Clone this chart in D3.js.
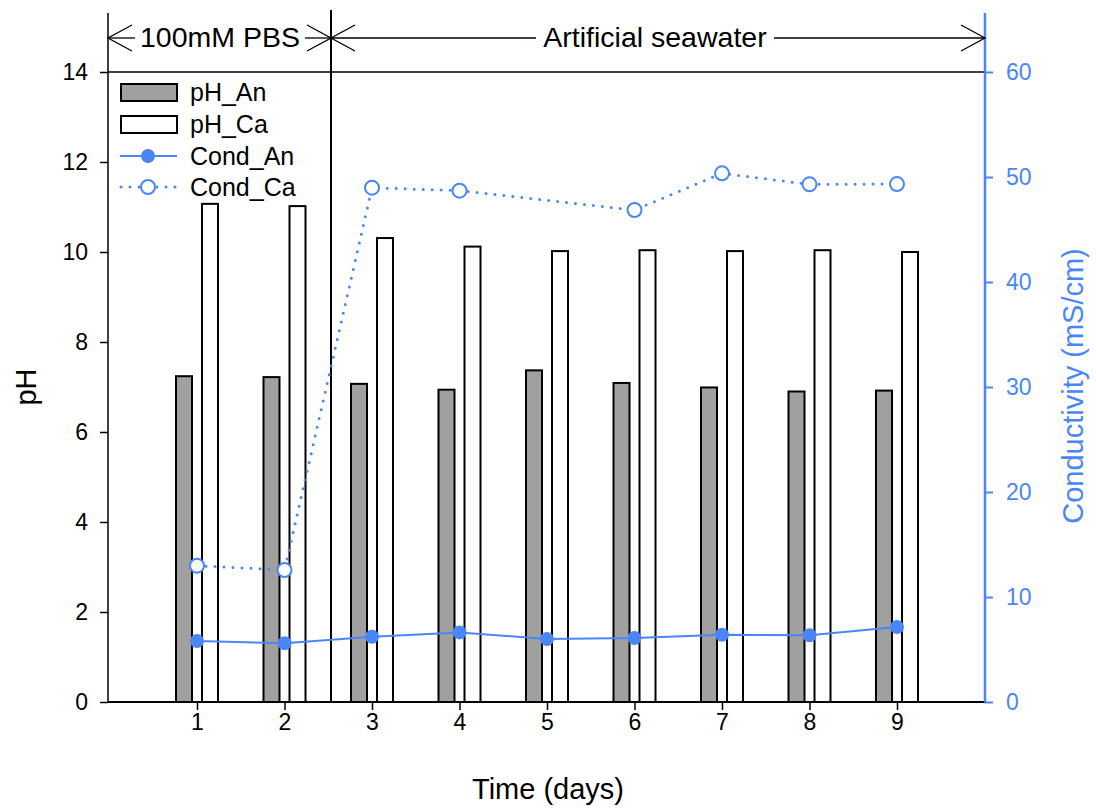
<!DOCTYPE html>
<html><head><meta charset="utf-8">
<script src="https://cdn.jsdelivr.net/npm/d3@7"></script>
<style>body{margin:0;background:#fff;} text{font-family:"Liberation Sans",Arial,sans-serif;}</style>
</head><body>
<svg id="c" width="1096" height="809"></svg>
<script>
const days = [1,2,3,4,5,6,7,8,9];
const phAn = [7.24,7.22,7.07,6.94,7.37,7.09,6.99,6.90,6.92];
const phCa = [11.07,11.02,10.31,10.12,10.02,10.04,10.02,10.04,10.00];
const condAn = [5.81,5.59,6.22,6.63,6.00,6.10,6.41,6.35,7.14];
const condCa = [12.98,12.57,48.98,48.70,null,46.86,50.35,49.30,49.33];
const leftTicks = [0,2,4,6,8,10,12,14];
const rightTicks = [0,10,20,30,40,50,60];
const blue = "#4a86f7";
const FF = "Liberation Sans, Arial, sans-serif";

const svg = d3.select("#c");
const L = 108, R = 985, B = 702, T = 13;
const x = d3.scaleLinear().domain([0,10]).range([109.5,984.5]);
const yL = d3.scaleLinear().domain([0,14]).range([702,72]);
const yR = d3.scaleLinear().domain([0,60]).range([702,72]);

// bars
const barW = 16, off = 13;
svg.selectAll("rect.an").data(days).join("rect")
  .attr("x", (d,i)=>x(d)-off-barW/2).attr("y",(d,i)=>yL(phAn[i]))
  .attr("width",barW).attr("height",(d,i)=>yL(0)-yL(phAn[i]))
  .attr("fill","#a0a0a0").attr("stroke","#000").attr("stroke-width",2);
svg.selectAll("rect.ca").data(days).join("rect")
  .attr("x", (d,i)=>x(d)+off-barW/2).attr("y",(d,i)=>yL(phCa[i]))
  .attr("width",barW).attr("height",(d,i)=>yL(0)-yL(phCa[i]))
  .attr("fill","#fff").attr("stroke","#000").attr("stroke-width",2);

// frame lines
svg.append("line").attr("x1",L).attr("x2",R).attr("y1",B).attr("y2",B).attr("stroke","#000").attr("stroke-width",2);
svg.append("line").attr("x1",L).attr("x2",L).attr("y1",T).attr("y2",B).attr("stroke","#000").attr("stroke-width",1.5);
svg.append("line").attr("x1",L).attr("x2",R).attr("y1",yL(14)).attr("y2",yL(14)).attr("stroke","#000").attr("stroke-width",1.5);
svg.append("line").attr("x1",331).attr("x2",331).attr("y1",10).attr("y2",B).attr("stroke","#000").attr("stroke-width",2);

function styleText(sel, color){
  sel.selectAll("text").attr("font-size",23).style("font-size","23px").attr("fill",color).style("font-family",FF);
}
// axes
const ax = svg.append("g").attr("transform",`translate(0,${B})`)
  .call(d3.axisBottom(x).tickValues(days).tickSize(8).tickPadding(4));
ax.select(".domain").remove();
ax.selectAll("line").attr("stroke","#000").attr("stroke-width",1.5);
styleText(ax,"#000");

const ayl = svg.append("g").attr("transform",`translate(${L},0)`)
  .call(d3.axisLeft(yL).tickValues(leftTicks).tickSize(8).tickPadding(12));
ayl.select(".domain").remove();
ayl.selectAll("line").attr("stroke","#000").attr("stroke-width",1.5);
styleText(ayl,"#000");

const ayr = svg.append("g").attr("transform",`translate(${R},0)`)
  .call(d3.axisRight(yR).tickValues(rightTicks).tickSize(8).tickPadding(13));
ayr.select(".domain").remove();
ayr.selectAll("line").attr("stroke",blue).attr("stroke-width",2);
styleText(ayr,blue);
svg.append("line").attr("x1",R).attr("x2",R).attr("y1",T).attr("y2",B).attr("stroke",blue).attr("stroke-width",2.5);

// lines
const ptsAn = days.map((d,i)=>[x(d),yR(condAn[i])]);
const ptsCa = days.map((d,i)=>[d,condCa[i]]).filter(p=>p[1]!==null).map(p=>[x(p[0]),yR(p[1])]);
svg.append("path").attr("d",d3.line()(ptsAn)).attr("fill","none").attr("stroke",blue).attr("stroke-width",2);
svg.append("path").attr("d",d3.line()(ptsCa)).attr("fill","none").attr("stroke",blue).attr("stroke-width",3)
  .attr("stroke-dasharray","0 9").attr("stroke-linecap","round");
svg.selectAll("circle.an").data(ptsAn).join("circle").attr("cx",d=>d[0]).attr("cy",d=>d[1]).attr("r",7).attr("fill",blue);
svg.selectAll("circle.ca").data(ptsCa).join("circle").attr("cx",d=>d[0]).attr("cy",d=>d[1]).attr("r",7)
  .attr("fill","#fff").attr("stroke",blue).attr("stroke-width",2);

// axis titles
svg.append("text").attr("x",548).attr("y",799).attr("text-anchor","middle").attr("font-size",29).text("Time (days)");
svg.append("text").attr("transform","translate(36,387) rotate(-90)").attr("text-anchor","middle").attr("font-size",29).text("pH");
svg.append("text").attr("transform","translate(1083,386) rotate(-90)").attr("text-anchor","middle").attr("font-size",29).attr("fill",blue).text("Conductivity (mS/cm)");

// legend
const lg = svg.append("g");
const ly = [92,124,156,187];
lg.append("rect").attr("x",121).attr("y",ly[0]-8).attr("width",56).attr("height",17).attr("fill","#a0a0a0").attr("stroke","#000").attr("stroke-width",2);
lg.append("rect").attr("x",121).attr("y",ly[1]-8).attr("width",56).attr("height",17).attr("fill","#fff").attr("stroke","#000").attr("stroke-width",2);
lg.append("line").attr("x1",120).attr("x2",177).attr("y1",ly[2]).attr("y2",ly[2]).attr("stroke",blue).attr("stroke-width",2);
lg.append("circle").attr("cx",148).attr("cy",ly[2]).attr("r",7).attr("fill",blue);
lg.append("line").attr("x1",121).attr("x2",177).attr("y1",ly[3]).attr("y2",ly[3]).attr("stroke",blue).attr("stroke-width",3).attr("stroke-dasharray","0 9").attr("stroke-linecap","round");
lg.append("circle").attr("cx",148).attr("cy",ly[3]).attr("r",7).attr("fill","#fff").attr("stroke",blue).attr("stroke-width",2);
["pH_An","pH_Ca","Cond_An","Cond_Ca"].forEach((t,i)=>{
  lg.append("text").attr("x",190).attr("y",ly[i]+9).attr("font-size",25).text(t);
});

// top annotations
function bracket(x0,x1,label,cx,gapL,gapR){
  const yA = 38;
  svg.append("line").attr("x1",x0).attr("x2",gapL).attr("y1",yA).attr("y2",yA).attr("stroke","#000").attr("stroke-width",1.3);
  svg.append("line").attr("x1",gapR).attr("x2",x1).attr("y1",yA).attr("y2",yA).attr("stroke","#000").attr("stroke-width",1.3);
  svg.append("path").attr("d",`M${x0+24},${yA-13}L${x0},${yA}L${x0+24},${yA+13}`).attr("fill","none").attr("stroke","#000").attr("stroke-width",1.3);
  svg.append("path").attr("d",`M${x1-24},${yA-13}L${x1},${yA}L${x1-24},${yA+13}`).attr("fill","none").attr("stroke","#000").attr("stroke-width",1.3);
  svg.append("text").attr("x",cx).attr("y",yA+9).attr("text-anchor","middle").attr("font-size",28.5).text(label);
}
bracket(L,331,"100mM PBS",220,135,305);
bracket(331,R,"Artificial seawater",655,536,774);
</script>
</body></html>
